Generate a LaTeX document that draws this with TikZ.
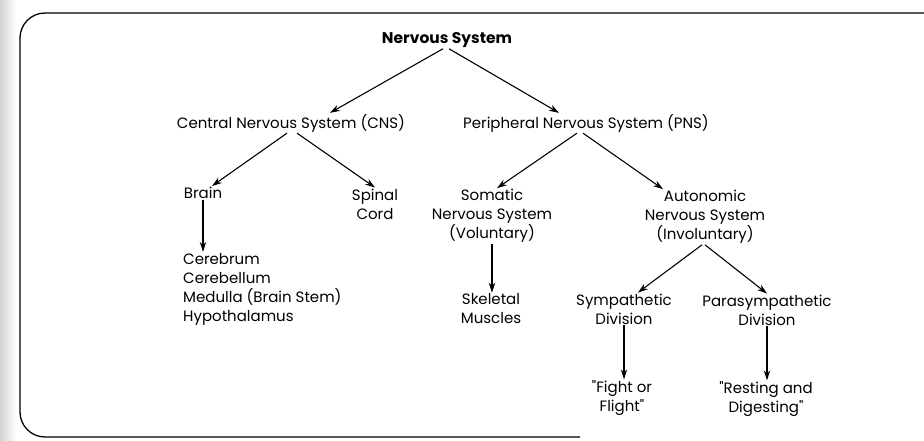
\documentclass[tikz,border=0pt]{standalone}
\usepackage{fontspec}
\setmainfont{Poppins}[Ligatures=TeXOff]
\usetikzlibrary{arrows.meta}

\tikzset{
  lbl/.style={inner sep=1pt, align=center, font=\fontsize{15}{19}\selectfont},
  arr/.style={line width=1.1pt, -{Stealth[length=10pt,width=6.5pt]}},
}

\begin{document}
\begin{tikzpicture}[x=1pt,y=-1pt]
	\useasboundingbox (0,0) rectangle (924,441);
	\fill[left color=black!18, right color=white] (0,0) rectangle (16,441);
	\draw[line width=1.3pt, rounded corners=25pt] (580,437) -- (20,437) -- (20,13) -- (924,13);
	% top levels
	\node[lbl, font=\fontsize{15.5}{19}\selectfont\bfseries] (ns) at (447,40) {Nervous System};
	\node[lbl] (cns) at (291,123) {Central Nervous System (CNS)};
	\node[lbl] (pns) at (586,123) {Peripheral Nervous System (PNS)};
	% central side
	\node[lbl] (brain) at (203,193) {Brain};
	\node[lbl] (spinal) at (375,204) {Spinal\\Cord};
	\node[lbl, align=left, anchor=west] (parts) at (182,289) {Cerebrum\\Cerebellum\\Medulla (Brain Stem)\\Hypothalamus};
	% peripheral side
	\node[lbl] (somatic) at (492,216) {Somatic\\Nervous System\\(Voluntary)};
	\node[lbl] (auto) at (705,217) {Autonomic\\Nervous System\\(Involuntary)};
	\node[lbl] (skel) at (491,309) {Skeletal\\Muscles};
	\node[lbl] (symp) at (624,309) {Sympathetic\\Division};
	\node[lbl] (para) at (767,310) {Parasympathetic\\Division};
	\node[lbl] (fight) at (622,398) {"Fight or\\Flight"};
	\node[lbl] (rest) at (766,399) {"Resting and\\Digesting"};
	% arrows
	\draw[arr] ([xshift=-4pt]ns.south) -- ([xshift=39pt]cns.north);
	\draw[arr] ([xshift=2pt]ns.south) -- ([xshift=-27pt]pns.north);
	\draw[arr] ([xshift=-4pt]cns.south) -- ([xshift=9pt]brain.north);
	\draw[arr] ([xshift=6pt]cns.south) -- (spinal.north);
	\draw[arr] (brain.south) -- (brain.south |- parts.north);
	\draw[arr] ([xshift=-9pt]pns.south) -- ([xshift=5pt]somatic.north);
	\draw[arr] ([xshift=-3pt]pns.south) -- ([xshift=-42pt]auto.north);
	\draw[arr] (somatic.south) -- (somatic.south |- skel.north);
	\draw[arr] ([xshift=-3pt]auto.south) -- ([xshift=14pt]symp.north);
	\draw[arr] (auto.south) -- (para.north);
	\draw[arr] (symp.south) -- (symp.south |- fight.north);
	\draw[arr] (para.south) -- (para.south |- rest.north);
\end{tikzpicture}
\end{document}
